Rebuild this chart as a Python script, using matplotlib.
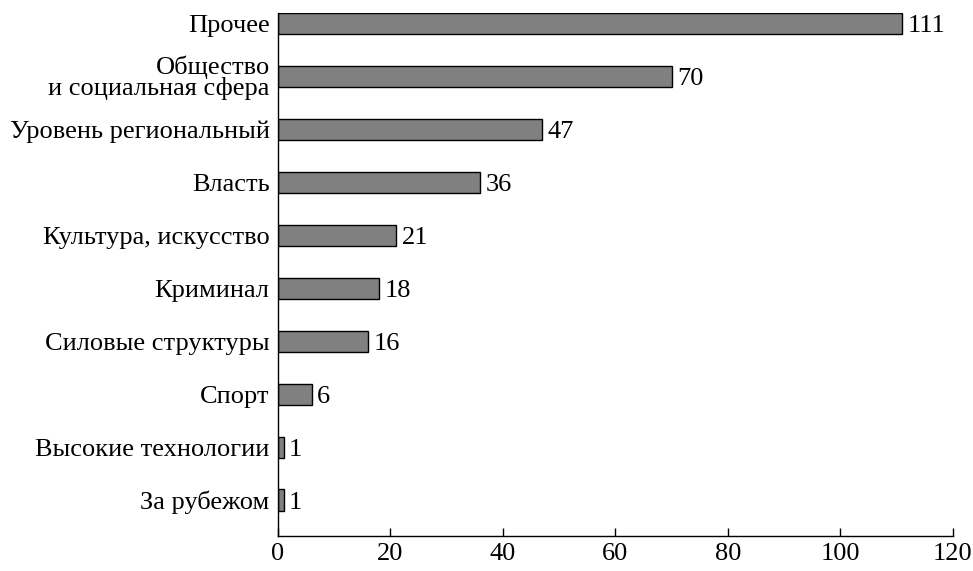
import numpy as np
import matplotlib.pyplot as plt

plt.rcParams['font.family'] = ['Liberation Serif', 'DejaVu Serif']

categories = ['Прочее', 'Общество\nи социальная сфера', 'Уровень региональный', 'Власть',
              'Культура, искусство', 'Криминал', 'Силовые структуры', 'Спорт',
              'Высокие технологии', 'За рубежом']
values = [111, 70, 47, 36, 21, 18, 16, 6, 1, 1]
xticks = [0, 20, 40, 60, 80, 100, 120]

fig = plt.figure(figsize=(9.73, 5.71), dpi=100)
ax = fig.add_axes([0.2857, 0.0613, 0.6937, 0.9157])

y = np.arange(len(categories))
ax.barh(y, values, height=0.4, color='#808080', edgecolor='black', linewidth=1)

# подписи значений
for yi, v in zip(y, values):
    ax.annotate(str(v), (v, yi), xytext=(4, -2), textcoords='offset points',
                va='center', ha='left', fontsize=19)

ax.set_yticks(y)
ax.set_yticklabels(categories, fontsize=19, linespacing=0.85)
ax.set_ylim(len(categories) - 1 + 0.68, -0.2)
ax.set_xlim(0, 120)
ax.set_xticks(xticks)
ax.tick_params(axis='x', direction='in', length=6, width=1, labelsize=19, pad=5)
ax.tick_params(axis='y', length=0, pad=6)

for s in ['top', 'right']:
    ax.spines[s].set_visible(False)
ax.spines['left'].set_linewidth(1)
ax.spines['bottom'].set_linewidth(1)

fig.savefig('out.png', dpi=100)
